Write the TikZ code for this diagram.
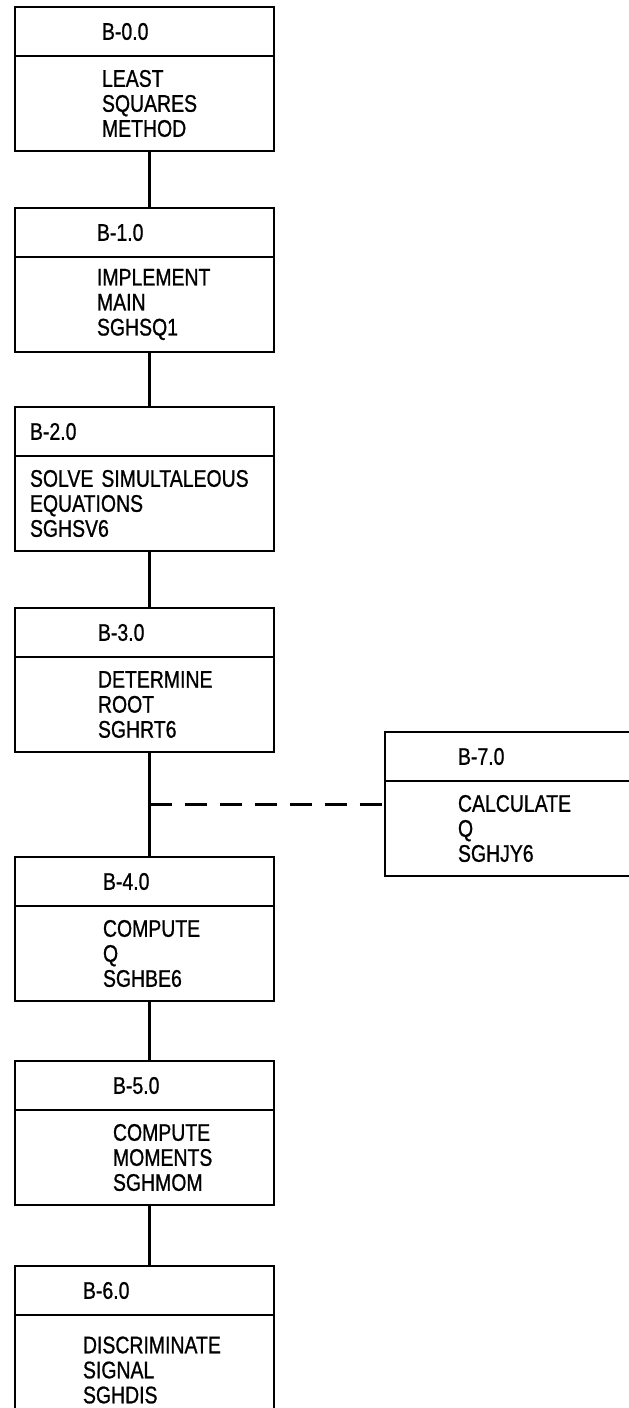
\documentclass[tikz,border=0pt]{standalone}
\usepackage{fontspec}
\setmainfont[FakeStretch=0.81, FakeBold=0.9]{Liberation Sans}
\usetikzlibrary{positioning}

\begin{document}
\begin{tikzpicture}[
    x=1pt, y=1pt,
    node distance=57pt,
    hd/.style={draw, line width=2.2pt, outer sep=0pt, minimum width=259pt, minimum height=49pt,
      align=left, font=\fontsize{24}{25}\selectfont},
    bd/.style={hd, minimum height=95pt},
    pad/.style 2 args={inner xsep=#1, text width=#2},
    ln/.style={line width=2.2pt},
    dsh/.style={ln, dash pattern=on 22pt off 13pt}
  ]
  \useasboundingbox (0,0) rectangle (629,-1408);

  \node[hd, pad={87pt}{85pt}] (b0) at (144.5,-31.5) {B-0.0};
  \node[bd, pad={87pt}{85pt}, below=0pt of b0] (b0b) {LEAST\\ SQUARES\\ METHOD};

  \node[hd, pad={82pt}{95pt}, below=of b0b] (b1) {B-1.0};
  \node[bd, pad={82pt}{95pt}, below=0pt of b1] (b1b) {IMPLEMENT\\ MAIN\\ SGHSQ1};

  \node[hd, pad={15pt}{229pt}, below=55pt of b1b] (b2) {B-2.0};
  \node[bd, pad={15pt}{229pt}, below=0pt of b2] (b2b) {SOLVE~SIMULTALEOUS\\ EQUATIONS\\ SGHSV6};

  \node[hd, pad={83pt}{93pt}, below=of b2b] (b3) {B-3.0};
  \node[bd, pad={83pt}{93pt}, below=0pt of b3] (b3b) {DETERMINE\\ ROOT\\ SGHRT6};

  \node[hd, pad={88pt}{83pt}, below=105pt of b3b] (b4) {B-4.0};
  \node[bd, pad={88pt}{83pt}, below=0pt of b4] (b4b) {COMPUTE\\ Q\\ SGHBE6};

  \node[hd, pad={98pt}{63pt}, below=60pt of b4b] (b5) {B-5.0};
  \node[bd, pad={98pt}{63pt}, below=0pt of b5] (b5b) {COMPUTE\\ MOMENTS\\ SGHMOM};

  \node[hd, pad={68pt}{123pt}, below=61pt of b5b] (b6) {B-6.0};
  \node[bd, pad={68pt}{123pt}, below=0pt of b6, minimum height=110pt] (b6b) {DISCRIMINATE\\ SIGNAL\\ SGHDIS};

  % side block, reached from the B-3.0 / B-4.0 link
  \node[hd, pad={73pt}{113pt}] (b7) at (514.5,-756.5) {B-7.0};
  \node[bd, pad={73pt}{113pt}, below=0pt of b7] (b7b) {CALCULATE\\ Q\\ SGHJY6};

  \draw[ln] ([xshift=5pt]b0b.south) -- ([xshift=5pt]b1.north);
  \draw[ln] ([xshift=5pt]b1b.south) -- ([xshift=5pt]b2.north);
  \draw[ln] ([xshift=5pt]b2b.south) -- ([xshift=5pt]b3.north);
  \draw[ln] ([xshift=5pt]b3b.south) -- coordinate[pos=0.5] (tap) ([xshift=5pt]b4.north);
  \draw[ln] ([xshift=5pt]b4b.south) -- ([xshift=5pt]b5.north);
  \draw[ln] ([xshift=5pt]b5b.south) -- ([xshift=5pt]b6.north);
  \draw[dsh] (tap) -- (tap -| b7b.west);
\end{tikzpicture}
\end{document}
